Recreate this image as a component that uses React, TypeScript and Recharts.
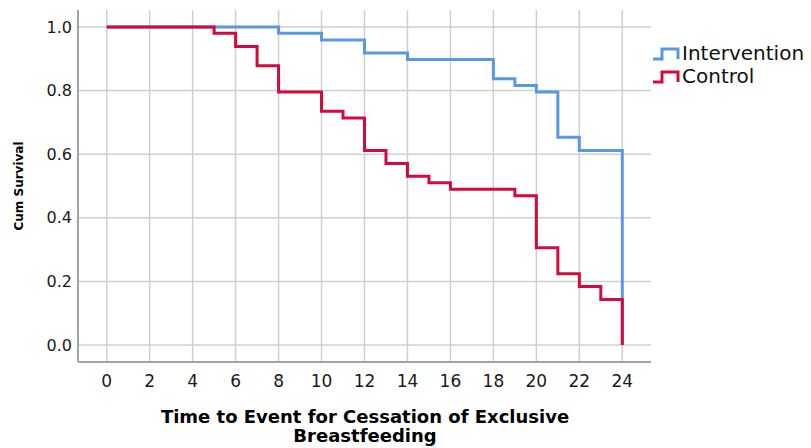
import React from "react";
import { LineChart, Line, XAxis, YAxis, ReferenceLine } from "recharts";

const interventionTimes = [0, 8, 10, 12, 14, 18, 19, 20, 21, 22, 24];
const interventionSurvival = [1, 0.98, 0.959, 0.918, 0.898, 0.837, 0.816, 0.796, 0.653, 0.612, 0];

const controlTimes = [0, 5, 6, 7, 8, 10, 11, 12, 13, 14, 15, 16, 19, 20, 21, 22, 23, 24];
const controlSurvival = [1, 0.98, 0.939, 0.878, 0.796, 0.735, 0.714, 0.612, 0.571, 0.531, 0.51, 0.49, 0.469, 0.306, 0.224, 0.184, 0.143, 0];

const xTicks = [0, 2, 4, 6, 8, 10, 12, 14, 16, 18, 20, 22, 24];
const yTicks = [0, 0.2, 0.4, 0.6, 0.8, 1.0];

const seriesNames = ["Intervention", "Control"];
const seriesColors = ["#5898e6", "#d5093b"];

const interventionData = interventionTimes.map((t, i) => ({ t, s: interventionSurvival[i] }));
const controlData = controlTimes.map((t, i) => ({ t, s: controlSurvival[i] }));

const FONT = "'DejaVu Sans', sans-serif";
const GRID = "#cfcfcf";

const LegendBox = () => (
  <div
    style={{
      position: "absolute",
      left: 652,
      top: 42,
      fontFamily: FONT,
      fontSize: 20,
      color: "#111",
      lineHeight: "23px",
    }}
  >
    {seriesNames.map((name, i) => (
      <div key={name} style={{ display: "flex", alignItems: "center", height: 23 }}>
        <svg width={29} height={14} style={{ marginRight: 1 }}>
          <path d="M1,12 H10 V2 H26 V12" fill="none" stroke={seriesColors[i]} strokeWidth={3} />
        </svg>
        <span>{name}</span>
      </div>
    ))}
  </div>
);

const XLabel = () => (
  <g>
    <text x={365} y={423} textAnchor="middle" fontFamily={FONT} fontWeight="bold" fontSize={18} fill="#000">
      Time to Event for Cessation of Exclusive
    </text>
    <text x={365} y={442} textAnchor="middle" fontFamily={FONT} fontWeight="bold" fontSize={18} fill="#000">
      Breastfeeding
    </text>
  </g>
);

const YLabel = () => (
  <text
    x={19}
    y={186}
    transform="rotate(-90 19 186)"
    textAnchor="middle"
    dominantBaseline="central"
    fontFamily={FONT}
    fontWeight="bold"
    fontSize={12}
    fill="#000"
  >
    Cum Survival
  </text>
);

export default function App() {
  return (
    <div style={{ position: "absolute", left: 0, top: 0, width: 811, height: 448, background: "#fff" }}>
      <LineChart width={811} height={448} margin={{ top: 10, right: 160, left: 0, bottom: 0 }}>
        <XAxis
          type="number"
          dataKey="t"
          domain={[-1.336, 25.336]}
          allowDataOverflow
          ticks={xTicks}
          interval={0}
          height={86}
          tickLine={false}
          tickSize={10}
          tickMargin={3}
          axisLine={{ stroke: "#a3a3a3", strokeWidth: 2 }}
          tick={{ fontFamily: FONT, fontSize: 17, fill: "#1a1a1a" }}
          label={<XLabel />}
        />
        <YAxis
          type="number"
          domain={[-0.0535, 1.0535]}
          allowDataOverflow
          ticks={yTicks}
          interval={0}
          width={78}
          tickLine={false}
          tickSize={4}
          tickMargin={2}
          tickFormatter={(v: number) => v.toFixed(1)}
          axisLine={{ stroke: "#a3a3a3", strokeWidth: 2 }}
          tick={{ fontFamily: FONT, fontSize: 16, fill: "#1a1a1a" }}
          label={<YLabel />}
        />
        {xTicks.map((t) => (
          <ReferenceLine key={"vx" + t} x={t} stroke={GRID} strokeWidth={1.5} ifOverflow="visible" />
        ))}
        {yTicks.map((v) => (
          <ReferenceLine key={"hy" + v} y={v} stroke={GRID} strokeWidth={1.5} ifOverflow="visible" />
        ))}
        <Line
          data={interventionData}
          dataKey="s"
          name={seriesNames[0]}
          type="stepAfter"
          stroke={seriesColors[0]}
          strokeWidth={3}
          dot={false}
          activeDot={false}
          isAnimationActive={false}
          strokeLinejoin="miter"
        />
        <Line
          data={controlData}
          dataKey="s"
          name={seriesNames[1]}
          type="stepAfter"
          stroke={seriesColors[1]}
          strokeWidth={3}
          dot={false}
          activeDot={false}
          isAnimationActive={false}
          strokeLinejoin="miter"
        />
      </LineChart>
      <LegendBox />
    </div>
  );
}
